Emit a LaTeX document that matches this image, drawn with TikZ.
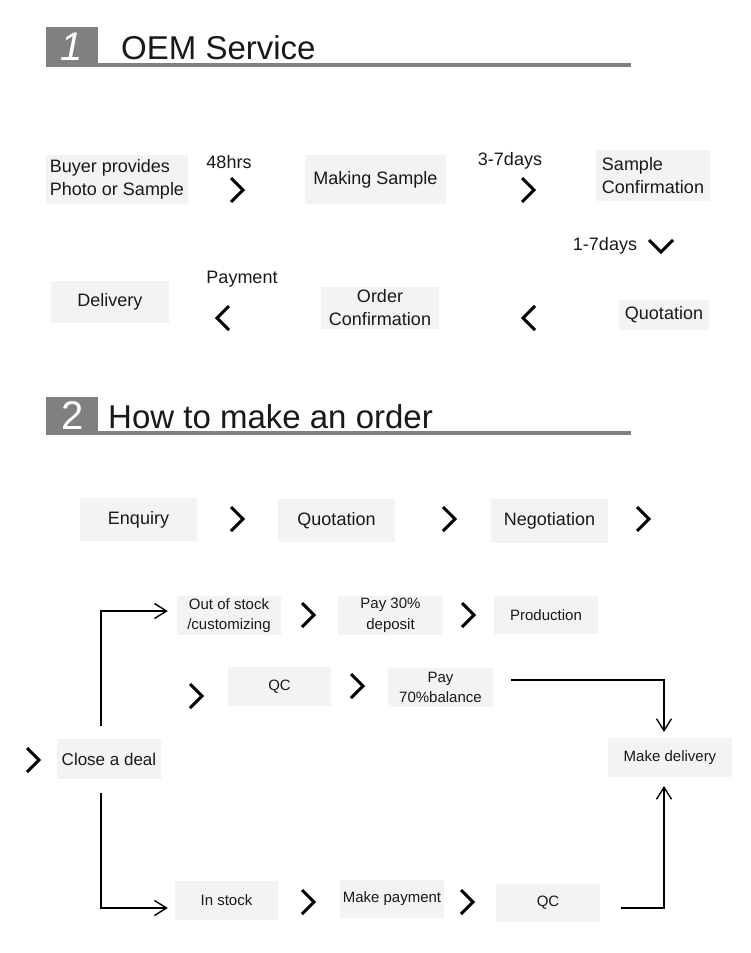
\documentclass[tikz,border=0pt]{standalone}
\usepackage{fontspec}
\setmainfont{Liberation Sans}
\usetikzlibrary{arrows.meta}

\definecolor{boxgray}{RGB}{242,243,245}
\definecolor{headgray}{RGB}{128,128,128}
\definecolor{ink}{RGB}{25,25,25}

\newcommand{\headfont}{\fontsize{33}{36}\selectfont}
\newcommand{\numfont}{\fontsize{40}{42}\selectfont}
\newcommand{\mainfont}{\fontsize{18}{23}\selectfont}
\newcommand{\smallfont}{\fontsize{15}{20.5}\selectfont}

\tikzset{
  chevr/.pic={\draw[chev] (-6,-12) -- (6,0) -- (-6,12);},
  chevl/.pic={\draw[chev] (6,-12) -- (-6,0) -- (6,12);},
  chevd/.pic={\draw[chev] (-12,-6) -- (0,6) -- (12,-6);}
}

\begin{document}
\begin{tikzpicture}[x=1pt,y=-1pt,
    every node/.style={text=ink},
    box/.style={fill=boxgray, inner sep=0pt, align=center},
    bigbox/.style={box, font=\mainfont},
    smallbox/.style={box, font=\smallfont},
    note/.style={font=\mainfont, inner sep=0pt},
    chev/.style={line width=3.1pt, line join=miter, draw=black},
    link/.style={line width=1.4pt, -{Straight Barb[length=12pt,width=15pt,line width=1.4pt]}}]
    \useasboundingbox[fill=white] (0,0) rectangle (750,953);

    % heading 1
    \fill[headgray] (46,27) rectangle (98,67);
    \fill[headgray] (98,63) rectangle (631,67);
    \node[text=white, font=\numfont\itshape] (num1) at (72,47) {1};
    \node[anchor=base west, font=\headfont, inner sep=0pt] (head1) at (121,59) {OEM Service};

    % OEM steps
    \node[bigbox, align=left, minimum width=142, minimum height=49] (buyer) at (117,179.5) {Buyer provides\\Photo or Sample};
    \node[bigbox, minimum width=141, minimum height=49] (mksample) at (375.5,179.5) {Making Sample};
    \node[bigbox, align=left, minimum width=114, minimum height=51] (sconf) at (653,175.5) {Sample\\Confirmation};
    \node[bigbox, minimum width=90, minimum height=30] (quot1) at (664,315) {Quotation};
    \node[bigbox, minimum width=118, minimum height=42] (oconf) at (380,308) {Order\\Confirmation};
    \node[bigbox, minimum width=118, minimum height=42] (deliv1) at (110,302) {Delivery};

    \node[note] (t48) at (229,162) {48hrs};
    \node[note] (t37) at (510,161) {3-7days};
    \node[note] (t17) at (605,246) {1-7days};
    \node[note] (tpay) at (242,279) {Payment};
    \pic at (237,190) {chevr};
    \pic at (528,190) {chevr};
    \pic at (661,246) {chevd};
    \pic at (529,318) {chevl};
    \pic at (223,318) {chevl};

    % heading 2
    \fill[headgray] (46,397) rectangle (98,435);
    \fill[headgray] (98,431) rectangle (631,435);
    \node[text=white, font=\numfont] (num2) at (73,416) {2};
    \node[anchor=base west, font=\headfont, inner sep=0pt] (head2) at (108,428) {How to make an order};

    % order steps
    \node[bigbox, minimum width=117, minimum height=43] (enq) at (138.5,519.5) {Enquiry};
    \node[bigbox, minimum width=117, minimum height=43] (quot2) at (336.5,520.5) {Quotation};
    \node[bigbox, minimum width=117, minimum height=44] (nego) at (549.5,521) {Negotiation};
    \pic at (237,519) {chevr};
    \pic at (449,519) {chevr};
    \pic at (643,519) {chevr};

    \node[smallbox, minimum width=104, minimum height=39] (oos) at (229,615.5) {Out of stock\\/customizing};
    \node[smallbox, minimum width=105, minimum height=39] (pay30) at (390.5,615.5) {Pay 30\%\\deposit};
    \node[smallbox, minimum width=104, minimum height=38] (prod) at (546,615) {Production};
    \pic at (308,615) {chevr};
    \pic at (468,615) {chevr};

    \node[smallbox, minimum width=103, minimum height=39] (qc1) at (279.5,686.5) {QC};
    \node[smallbox, minimum width=105, minimum height=39] (pay70) at (440.5,687.5) {Pay\\70\%balance};
    \pic at (196,696) {chevr};
    \pic at (357,686) {chevr};

    \node[box, font=\fontsize{17}{20}\selectfont, minimum width=104, minimum height=40] (deal) at (109,759) {Close a deal};
    \node[smallbox, minimum width=124, minimum height=39] (mdel) at (670,757.5) {Make delivery};
    \pic at (33,760) {chevr};

    \node[smallbox, minimum width=103, minimum height=39] (instock) at (226.5,900.5) {In stock};
    \node[smallbox, minimum width=104, minimum height=38] (mpay) at (392,899) {Make payment};
    \node[smallbox, minimum width=104, minimum height=38] (qc2) at (548,903) {QC};
    \pic at (308,902) {chevr};
    \pic at (467,902) {chevr};

    % connectors
    \coordinate (dealtop) at (101,726);
    \coordinate (dealbot) at (101,793);
    \coordinate (balend) at (511,680);
    \coordinate (qcend) at (621,908);
    \coordinate (mdeltop) at (664,732);
    \coordinate (mdelbot) at (664,786);
    \draw[link] (dealtop) |- ([xshift=-9pt,yshift=4.5pt]oos.west);
    \draw[link] (dealbot) |- ([xshift=-7pt,yshift=-7.5pt]instock.west);
    \draw[link] (balend) -| (mdeltop);
    \draw[link] (qcend) -| (mdelbot);
\end{tikzpicture}
\end{document}
